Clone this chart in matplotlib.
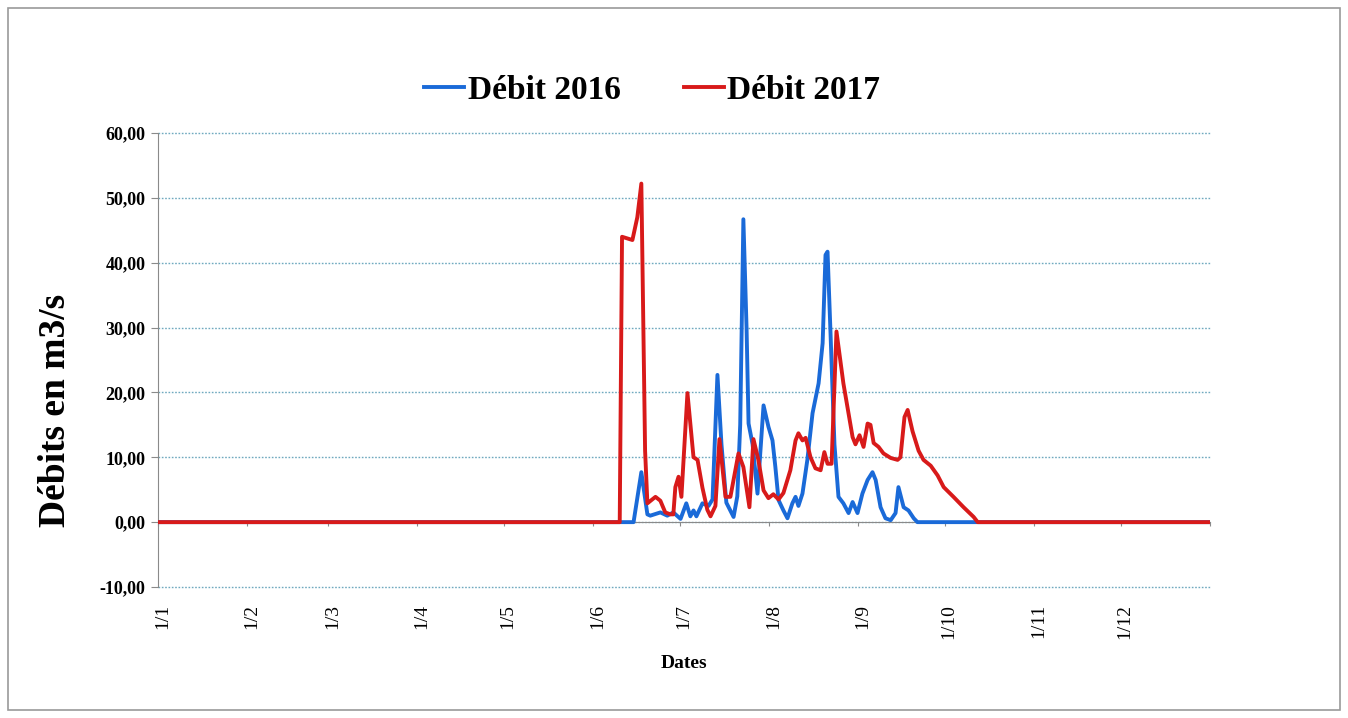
import matplotlib
matplotlib.use("Agg")
import matplotlib.pyplot as plt
from matplotlib.patches import Rectangle
from matplotlib.ticker import FuncFormatter

# Daily discharge (m3/s) by day of year
days_2016 = [0, 165.0, 167.7, 169.8, 170.8, 174.3, 176.7, 178.8, 181.3, 183.3, 184.7,
             185.8, 186.8, 188.9, 191.0, 192.4, 194.1, 195.5, 197.2, 199.7, 201.0,
             202.0, 203.1, 204.2, 204.9, 206.3, 208.0, 210.1, 211.8, 213.2, 214.2,
             215.3, 217.0, 218.4, 220.1, 221.2, 222.2, 223.6, 225.3, 227.1, 229.2,
             230.6, 231.6, 232.3, 233.3, 234.7, 236.1, 237.8, 239.6, 241.0, 242.7,
             244.4, 246.2, 247.9, 249.0, 250.7, 252.4, 254.2, 255.9, 256.9, 258.7,
             260.4, 262.2, 263.5, 365]
debit_2016 = [0, 0, 7.7, 1.2, 1.0, 1.5, 1.0, 1.5, 0.5, 2.9, 0.9,
              1.8, 0.9, 2.9, 2.5, 3.5, 22.7, 12.0, 3.0, 0.8, 4.0,
              15.0, 46.7, 30.0, 15.2, 12.0, 4.4, 18.0, 14.7, 12.6, 8.5,
              3.4, 1.8, 0.6, 2.9, 3.9, 2.5, 4.4, 9.6, 16.8, 21.4,
              27.6, 41.2, 41.7, 29.6, 12.0, 3.9, 2.9, 1.4, 3.1, 1.4,
              4.4, 6.5, 7.7, 6.5, 2.3, 0.6, 0.3, 1.4, 5.4, 2.3,
              1.8, 0.6, 0, 0]

days_2017 = [0, 160.2, 161.0, 164.6, 166.3, 167.7, 169.0, 169.8, 172.6, 174.3, 176.0,
             177.8, 178.8, 179.5, 180.6, 181.6, 183.7, 185.8, 187.2, 188.9, 190.6,
             191.7, 193.4, 194.8, 196.9, 198.6, 201.4, 203.1, 205.2, 206.6, 208.3,
             210.1, 211.8, 213.5, 215.3, 217.0, 219.4, 221.2, 222.2, 223.6, 224.7,
             226.4, 228.1, 229.9, 231.2, 232.3, 233.7, 235.4, 237.8, 241.0, 242.0,
             243.4, 244.8, 246.2, 247.2, 248.3, 250.0, 251.7, 254.2, 256.6, 257.6,
             259.0, 260.1, 261.8, 263.9, 265.6, 268.1, 270.5, 272.6, 276.0, 279.5,
             283.0, 284.4, 365]
debit_2017 = [0, 0, 44.0, 43.5, 47.0, 52.2, 11.0, 2.9, 3.9, 3.3, 1.5,
              1.2, 1.2, 5.4, 7.0, 3.9, 19.9, 10.0, 9.6, 5.3, 1.9,
              0.9, 2.5, 12.8, 3.9, 3.9, 10.6, 8.5, 2.3, 12.8, 9.6,
              4.9, 3.7, 4.3, 3.5, 4.5, 8.0, 12.6, 13.7, 12.6, 13.0,
              10.0, 8.3, 8.0, 10.8, 9.0, 9.0, 29.4, 21.4, 13.1, 12.0,
              13.4, 11.6, 15.2, 15.0, 12.2, 11.6, 10.6, 9.9, 9.6, 10.0,
              16.2, 17.3, 14.0, 11.0, 9.6, 8.7, 7.2, 5.4, 3.9, 2.3,
              0.8, 0, 0]

# First day of each month (day of year) and its label
month_starts = [0, 31, 59, 90, 120, 151, 181, 212, 243, 273, 304, 334]
month_labels = ["1/1", "1/2", "1/3", "1/4", "1/5", "1/6",
                "1/7", "1/8", "1/9", "1/10", "1/11", "1/12"]
y_ticks = [-10, 0, 10, 20, 30, 40, 50, 60]

serif = ["Liberation Serif", "DejaVu Serif"]
blue = "#1a6ad8"
red = "#d81a1a"

fig = plt.figure(figsize=(13.48, 7.18), dpi=100)
fig.patches.append(Rectangle((8 / 1348, 8 / 718), 1332 / 1348, 702 / 718,
                             transform=fig.transFigure, fill=False,
                             edgecolor="#9a9a9a", linewidth=1.2))

ax = fig.add_axes([158 / 1348, 1 - 587 / 718, 1052 / 1348, 454 / 718])

ax.plot(days_2016, debit_2016, color=blue, linewidth=2.8, label="Débit 2016",
        solid_joinstyle="round", zorder=3)
ax.plot(days_2017, debit_2017, color=red, linewidth=2.8, label="Débit 2017",
        solid_joinstyle="round", zorder=4)

ax.set_xlim(0, 365)
ax.set_ylim(-10, 60)

# Horizontal dotted grid
ax.set_yticks(y_ticks)
ax.yaxis.grid(True, color="#6fa9bf", linestyle=(0, (1.2, 1.2)), linewidth=1.0)
for gl in ax.get_ygridlines():
    gl.set_clip_on(False)
ax.set_axisbelow(True)
ax.yaxis.set_major_formatter(FuncFormatter(lambda v, p: f"{v:.2f}".replace(".", ",")))
for lab in ax.get_yticklabels():
    lab.set_fontfamily(serif)
    lab.set_fontweight("bold")
    lab.set_fontsize(13)
ax.tick_params(axis="y", length=5, width=0.8, color="#8a8a8a", pad=4)

# Category axis crosses at zero; labels sit below the plot area
for side in ("top", "right"):
    ax.spines[side].set_visible(False)
ax.spines["left"].set_color("#8a8a8a")
ax.spines["bottom"].set_position(("data", 0))
ax.spines["bottom"].set_color("#8a8a8a")
ax.set_xticks(month_starts + [365])
ax.tick_params(axis="x", length=3, width=0.8, color="#8a8a8a", labelbottom=False)

sec = ax.secondary_xaxis(0)
sec.set_xticks([m + 1.5 for m in month_starts])
sec.set_xticklabels(month_labels, rotation=90, fontfamily=serif, fontsize=14)
sec.tick_params(length=0, pad=12)
sec.spines["bottom"].set_visible(False)
sec.set_xlabel("Dates", fontfamily=serif, fontweight="bold", fontsize=14, labelpad=12)

ax.set_ylabel("Débits en m3/s", fontfamily=serif, fontweight="bold", fontsize=27)
ax.yaxis.set_label_coords(-0.081, 0.39)

fig.legend(loc="center", bbox_to_anchor=(0.484, 0.874), ncol=2, frameon=False,
           prop={"family": serif, "weight": "bold", "size": 24},
           handlelength=1.2, handletextpad=0.1, columnspacing=1.9)

fig.savefig("out.png", dpi=100, facecolor="white")
